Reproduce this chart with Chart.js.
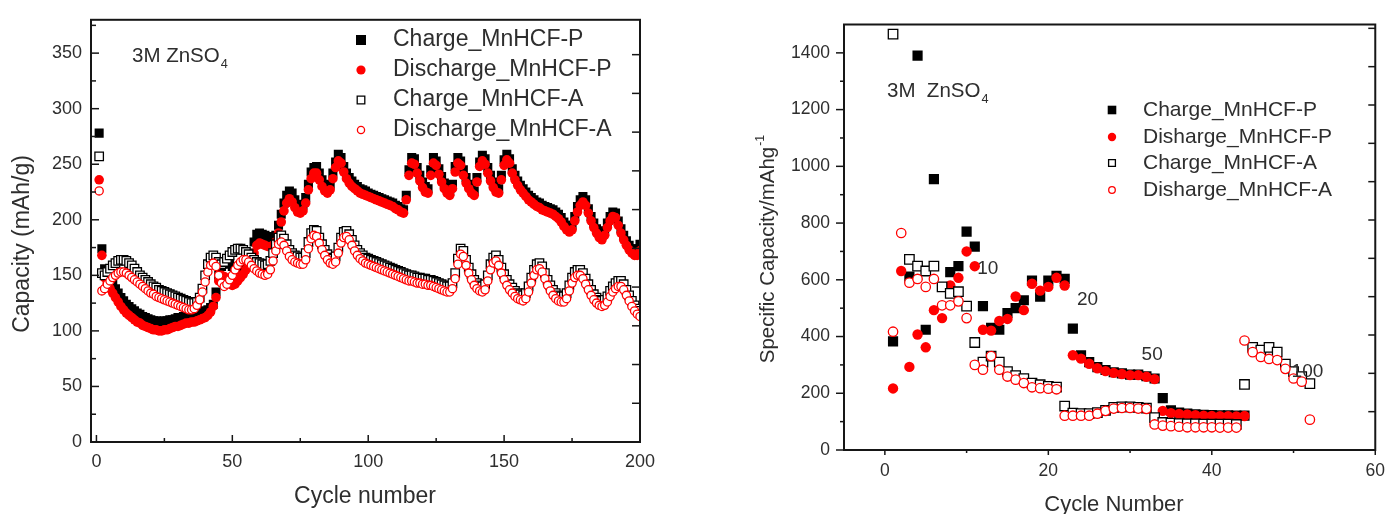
<!DOCTYPE html>
<html>
<head>
<meta charset="utf-8">
<title>MnHCF cycling and rate capability</title>
<script src="https://cdn.jsdelivr.net/npm/chart.js@4.4.1/dist/chart.umd.min.js"></script>
<style>
  html, body { margin: 0; padding: 0; background: #fff; overflow: hidden; }
  #wrap { position: relative; width: 1396px; height: 514px; }
  canvas { position: absolute; top: 0; }
</style>
</head>
<body>
<div id="wrap">
  <canvas id="cycling" width="700" height="514" style="left:0"></canvas>
  <canvas id="rate" width="696" height="514" style="left:700px"></canvas>
</div>
<script>
// ---------- Long-term cycling (capacity, mAh/g, cycles 1..200) ----------
const chargeP = [
  278,174,156,150,146,142,138,134,130,127, 124,122,120,118,116,115,113,112,111,110,
  109,109,108,108,109,109,110,110,111,112, 112,113,114,114,115,115,116,116,117,118,
  119,121,124,135,150,158,160,162,161,158, 156,155,158,160,163,166,170,180,187,188,
  187,186,185,184,184,186,195,205,215,222, 226,224,218,214,212,213,220,232,243,247,
  248,242,236,231,229,232,242,252,259,256, 248,242,238,235,232,230,228,227,226,224,
  223,222,221,220,219,218,217,216,215,213, 212,210,209,222,245,256,255,247,240,234,
  230,228,245,256,253,246,239,233,229,226, 232,248,256,253,245,238,232,228,226,238,
  252,258,255,247,240,234,230,228,240,254, 259,255,246,240,235,231,228,225,222,220,
  218,216,215,213,212,211,210,209,207,205, 202,198,195,193,195,203,212,218,221,218,
  210,203,197,192,188,186,190,197,203,207, 206,199,192,186,181,177,174,172,174,178
];
const dischargeP = [
  236,168,148,143,138,134,130,126,122,119, 116,114,112,110,108,107,105,104,103,102,
  101,101,100,100,101,101,102,103,104,104, 105,106,107,107,108,108,109,110,111,112,
  114,117,122,130,145,150,149,146,143,141, 142,145,148,151,155,158,162,170,177,179,
  178,177,176,176,177,180,188,198,208,215, 219,216,211,207,206,208,215,227,237,242,
  242,236,230,226,224,227,237,247,253,251, 243,237,233,230,228,226,224,223,222,221,
  220,219,218,217,216,215,214,213,212,210, 209,207,206,218,240,251,250,242,235,229,
  225,224,240,251,249,241,234,228,224,222, 228,243,251,249,240,233,228,224,222,234,
  248,253,250,242,235,229,225,224,236,249, 254,251,242,236,231,227,224,221,218,216,
  214,212,211,209,208,207,206,205,203,201, 198,194,191,189,191,199,207,213,216,213,
  206,199,193,188,184,182,186,193,199,203, 202,195,188,182,177,173,170,168,168,172
];
const chargeA = [
  257,152,150,153,156,159,161,163,164,164, 163,161,159,156,153,150,148,146,144,142,
  140,139,137,136,135,134,133,132,131,130, 129,128,127,126,125,125,126,130,138,150,
  160,166,168,166,162,160,162,165,168,171, 173,174,174,173,171,169,166,164,162,161,
  160,159,160,163,170,178,184,186,183,178, 173,170,168,167,166,166,170,180,188,191,
  190,184,178,173,169,166,165,167,175,184, 189,190,187,182,177,173,170,168,166,165,
  164,163,162,161,160,159,158,157,156,155, 154,153,152,151,150,150,149,148,148,147,
  147,146,146,145,144,143,142,141,140,140, 143,152,165,174,172,164,157,151,146,143,
  141,140,142,150,160,166,168,164,157,151, 146,142,139,136,134,133,132,134,140,148,
  155,160,161,158,152,146,141,137,134,132, 131,131,134,141,148,153,155,155,152,147,
  142,137,133,130,128,127,128,131,136,140, 143,145,145,142,137,132,127,123,120,118
];
const dischargeA = [
  226,136,138,142,145,148,150,152,153,153, 152,150,148,146,144,142,140,138,136,134,
  133,131,130,129,128,127,126,125,124,123, 122,121,120,119,119,120,123,128,135,144,
  153,159,161,158,150,143,140,142,146,150, 155,159,162,164,164,162,159,156,154,152,
  151,150,151,155,163,172,178,180,177,172, 167,164,162,161,160,160,164,174,183,186,
  185,179,173,168,164,161,160,162,170,179, 184,185,182,177,172,168,165,163,161,160,
  159,158,157,156,155,154,153,152,151,150, 149,148,147,146,145,145,144,143,143,142,
  142,141,141,140,139,138,137,136,135,135, 138,147,160,169,167,159,152,146,141,138,
  136,135,137,145,155,161,163,159,152,146, 141,137,134,131,129,128,127,129,135,143,
  150,155,156,153,147,141,136,132,129,127, 126,126,129,136,143,148,150,150,147,142,
  137,132,128,125,123,122,123,126,131,135, 138,140,140,137,132,127,122,118,115,113
];
const cycleTicks = [0, 50, 100, 150, 200];
const cycleMinorTicks = [25, 75, 125, 175];
const capacityTicks = [0, 50, 100, 150, 200, 250, 300, 350];
const capacityMinorTicks = [25, 75, 125, 175, 225, 275, 325, 375];

// ---------- Rate test (specific capacity, mAh/g, cycles 1..52) ----------
const rateChargeP = [
  383, null, 611, 1390, 424, 955, null, 627, 648, 770,
  717, 507, 431, 424, 483, 500, 528, 597, 541, 597,
  614, 603, 428, 334, 310, 292, 282, 274, 270, 266,
  266, 260, 252, 183, 140, 132, 128, 126, 124, 123,
  122, 122, 121, 121, null, null, null, null, null, null,
  null, null
];
const rateDischargeP = [
  217, 631, 293, 407, 362, 493, 465, 580, 607, 700,
  648, 424, 421, 455, 462, 541, 493, 586, 562, 575,
  607, 580, 334, 322, 304, 288, 278, 272, 268, 264,
  264, 258, 250, 138, 130, 127, 125, 123, 121, 120,
  119, 119, 118, 120, null, null, null, null, null, null,
  null, null
];
const rateChargeA = [
  1466, null, 672, 648, 631, 648, 575, 552, 558, 507,
  379, 310, 331, 310, 276, 262, 252, 236, 230, 224,
  222, 155, 130, 128, 128, 132, 140, 150, 152, 152,
  150, 148, 114, 97, 95, 93, 92, 92, 91, 91,
  91, 91, 90, 231, 362, 352, 362, 345, 303, 276,
  259, 234
];
const rateDischargeA = [
  417, 765, 590, 603, 575, 603, 510, 510, 524, 465,
  300, 283, 331, 283, 259, 248, 236, 221, 218, 216,
  214, 121, 121, 121, 121, 128, 138, 146, 148, 148,
  146, 145, 90, 86, 84, 82, 80, 80, 80, 80,
  79, 79, 79, 386, 345, 328, 321, 317, 286, 252,
  241, 107
];
const rateCycleTicks = [0, 20, 40, 60];
const rateCycleMinorTicks = [10, 30, 50];
const specTicks = [0, 200, 400, 600, 800, 1000, 1200, 1400];
const specMinorTicks = [100, 300, 500, 700, 900, 1100, 1300];
const rateLabels = ['10', '20', '50', '100'];

// ---------- shared look ----------
const INK = '#2e2e2e';
const FONT = "'Liberation Sans', Arial, sans-serif";
const RED = '#ff0000';

// pair each value with its cycle number (1-based), skipping gaps
function points(values) {
  const out = [];
  values.forEach((v, i) => { if (v !== null) out.push({ x: i + 1, y: v }); });
  return out;
}
const fixedTicks = list => scale => { scale.ticks = list.map(v => ({ value: v })); };
const plainLabel = v => String(v);

function drawMarker(ctx, style, x, y, half, fill, stroke, lw) {
  ctx.beginPath();
  if (style === 'rect') ctx.rect(x - half, y - half, 2 * half, 2 * half);
  else ctx.arc(x, y, half, 0, Math.PI * 2);
  ctx.fillStyle = fill;
  ctx.fill();
  if (lw) { ctx.lineWidth = lw; ctx.strokeStyle = stroke; ctx.stroke(); }
}

// plot frame plus major/minor tick marks (inward or outward)
const axisFrame = {
  id: 'axisFrame',
  afterDatasetsDraw(chart, args, o) {
    const { ctx, chartArea: a, scales } = chart;
    ctx.save();
    ctx.strokeStyle = '#161616';
    ctx.lineWidth = 1.5;
    const seg = (x1, y1, x2, y2) => { ctx.beginPath(); ctx.moveTo(x1, y1); ctx.lineTo(x2, y2); ctx.stroke(); };
    (o.bottom || []).forEach(t => t.values.forEach(v => {
      const px = scales.x.getPixelForValue(v);
      seg(px, a.bottom, px, a.bottom + (t.inward ? -t.len : t.len));
    }));
    (o.left || []).forEach(t => t.values.forEach(v => {
      const py = scales.y.getPixelForValue(v);
      seg(a.left, py, a.left + (t.inward ? t.len : -t.len), py);
    }));
    (o.right || []).forEach(t => t.values.forEach(v => {
      const py = scales.y2.getPixelForValue(v);
      seg(a.right, py, a.right - t.len, py);
    }));
    ctx.lineWidth = 2;
    ctx.strokeRect(a.left, a.top, a.right - a.left, a.bottom - a.top);
    ctx.restore();
  }
};

// axis titles, in-plot notes and legend
const decor = {
  id: 'decor',
  afterDraw(chart, args, o) {
    const { ctx, scales } = chart;
    ctx.save();
    ctx.fillStyle = INK;
    ctx.textBaseline = 'middle';

    o.titles.forEach(t => {
      ctx.save();
      ctx.translate(t.x, t.y);
      if (t.rotate) ctx.rotate(-Math.PI / 2);
      ctx.font = `${t.size}px ${FONT}`;
      const w = ctx.measureText(t.text).width;
      let total = w, sw = 0;
      if (t.sup) {
        ctx.font = `${t.size * 0.6}px ${FONT}`;
        sw = ctx.measureText(t.sup).width;
        total += sw + 1;
      }
      ctx.textAlign = 'left';
      ctx.font = `${t.size}px ${FONT}`;
      ctx.fillText(t.text, -total / 2, 0);
      if (t.sup) {
        ctx.font = `${t.size * 0.6}px ${FONT}`;
        ctx.fillText(t.sup, -total / 2 + w + 1, -t.size * 0.38);
      }
      ctx.restore();
    });

    // electrolyte note with subscript
    const n = o.note;
    ctx.textAlign = 'left';
    ctx.textBaseline = 'alphabetic';
    ctx.font = `${n.size}px ${FONT}`;
    ctx.fillText(n.text, n.x, n.y);
    const nw = ctx.measureText(n.text).width;
    ctx.font = `${n.size * 0.62}px ${FONT}`;
    ctx.fillText(n.sub, n.x + nw + 1, n.y + n.size * 0.3);

    // rate markers placed in data coordinates
    if (o.tags) {
      ctx.font = `${o.tags.size}px ${FONT}`;
      ctx.textAlign = 'center';
      ctx.textBaseline = 'middle';
      o.tags.items.forEach(tg => {
        ctx.fillText(tg.text, scales.x.getPixelForValue(tg.x), scales.y.getPixelForValue(tg.y));
      });
    }

    // legend
    const L = o.legend;
    ctx.textAlign = 'left';
    ctx.textBaseline = 'middle';
    chart.data.datasets.forEach((ds, i) => {
      const y = L.rows[i];
      drawMarker(ctx, ds.pointStyle, L.markerX, y, L.half[i], ds.backgroundColor, ds.borderColor, ds.borderWidth);
      ctx.fillStyle = INK;
      ctx.font = `${L.size}px ${FONT}`;
      ctx.fillText(ds.label, L.textX, y);
    });
    ctx.restore();
  }
};

function tickFont(size) { return { family: FONT, size: size }; }

// ---------- left panel: long-term cycling ----------
new Chart(document.getElementById('cycling'), {
  type: 'scatter',
  data: {
    datasets: [
      { label: 'Charge_MnHCF-P', data: points(chargeP), pointStyle: 'rect', pointRadius: 6.4,
        backgroundColor: '#000', borderColor: '#000', borderWidth: 0, order: 3 },
      { label: 'Discharge_MnHCF-P', data: points(dischargeP), pointStyle: 'circle', pointRadius: 4.8,
        backgroundColor: RED, borderColor: RED, borderWidth: 0, order: 2 },
      { label: 'Charge_MnHCF-A', data: points(chargeA), pointStyle: 'rect', pointRadius: 6,
        backgroundColor: '#fff', borderColor: '#000', borderWidth: 1.3, order: 1 },
      { label: 'Discharge_MnHCF-A', data: points(dischargeA), pointStyle: 'circle', pointRadius: 4.1,
        backgroundColor: '#fff', borderColor: RED, borderWidth: 1.3, order: 0 }
    ]
  },
  options: {
    responsive: false, animation: false, devicePixelRatio: 1, events: [],
    layout: { padding: { top: 15, right: 60, left: 0, bottom: 0 } },
    plugins: {
      legend: { display: false }, tooltip: { enabled: false },
      axisFrame: {
        bottom: [{ values: cycleTicks, inward: true, len: 7 }, { values: cycleMinorTicks, inward: true, len: 4 }],
        left: [{ values: capacityTicks, inward: true, len: 8 }, { values: capacityMinorTicks, inward: true, len: 5 }],
        right: [{ values: [1, 2, 3, 4, 5, 6, 7, 8, 9, 10], len: 8 }]
      },
      decor: {
        titles: [
          { text: 'Capacity (mAh/g)', x: 23, y: 244, size: 23, rotate: true },
          { text: 'Cycle number', x: 365, y: 497, size: 23 }
        ],
        note: { text: '3M ZnSO', sub: '4', x: 132, y: 62, size: 20.5 },
        legend: { markerX: 361, textX: 393, rows: [40, 70, 100, 130], size: 23, half: [5, 4.6, 3.8, 3.6] }
      }
    },
    scales: {
      x: {
        type: 'linear', min: -2, max: 200,
        afterBuildTicks: fixedTicks(cycleTicks),
        afterFit: s => { s.height = 72; },
        grid: { display: false, drawTicks: false }, border: { display: false },
        ticks: { font: tickFont(18), color: INK, padding: 9, maxRotation: 0, callback: plainLabel }
      },
      y: {
        type: 'linear', min: 0, max: 380,
        afterBuildTicks: fixedTicks(capacityTicks),
        afterFit: s => { s.width = 91; },
        grid: { display: false, drawTicks: false }, border: { display: false },
        ticks: { font: tickFont(18), color: INK, padding: 9, callback: plainLabel }
      },
      y2: { type: 'linear', position: 'right', display: false, min: 0, max: 10.9 }
    }
  },
  plugins: [axisFrame, decor]
});

// ---------- right panel: rate capability ----------
new Chart(document.getElementById('rate'), {
  type: 'scatter',
  data: {
    datasets: [
      { label: 'Charge_MnHCF-P', data: points(rateChargeP), pointStyle: 'rect', pointRadius: 7.2,
        backgroundColor: '#000', borderColor: '#000', borderWidth: 0, order: 3 },
      { label: 'Disharge_MnHCF-P', data: points(rateDischargeP), pointStyle: 'circle', pointRadius: 5.2,
        backgroundColor: RED, borderColor: RED, borderWidth: 0, order: 2 },
      { label: 'Charge_MnHCF-A', data: points(rateChargeA), pointStyle: 'rect', pointRadius: 6.7,
        backgroundColor: '#fff', borderColor: '#000', borderWidth: 1.3, order: 1 },
      { label: 'Disharge_MnHCF-A', data: points(rateDischargeA), pointStyle: 'circle', pointRadius: 4.7,
        backgroundColor: '#fff', borderColor: RED, borderWidth: 1.3, order: 0 }
    ]
  },
  options: {
    responsive: false, animation: false, devicePixelRatio: 1, events: [],
    layout: { padding: { top: 14, right: 13, left: 0, bottom: 0 } },
    plugins: {
      legend: { display: false }, tooltip: { enabled: false },
      axisFrame: {
        bottom: [{ values: rateCycleTicks, inward: false, len: 5 }, { values: rateCycleMinorTicks, inward: false, len: 3 }],
        left: [{ values: specTicks, inward: false, len: 8 }, { values: specMinorTicks, inward: false, len: 4 }],
        right: [{ values: [1, 2, 3, 4, 5, 6, 7, 8, 9, 10, 11], len: 7 }]
      },
      decor: {
        titles: [
          { text: 'Specific Capacity/mAhg', sup: '-1', x: 68, y: 249, size: 20.5, rotate: true },
          { text: 'Cycle Number', x: 414, y: 505, size: 22 }
        ],
        note: { text: '3M  ZnSO', sub: '4', x: 187, y: 97, size: 20.5 },
        tags: {
          size: 19,
          items: [
            { text: rateLabels[0], x: 12.6, y: 638 },
            { text: rateLabels[1], x: 24.8, y: 528 },
            { text: rateLabels[2], x: 32.7, y: 334 },
            { text: rateLabels[3], x: 51.7, y: 276 }
          ]
        },
        legend: { markerX: 412, textX: 443, rows: [110, 137, 163, 190], size: 21, half: [4.3, 4.2, 3.4, 3.3] }
      }
    },
    scales: {
      x: {
        type: 'linear', min: -5, max: 60,
        afterBuildTicks: fixedTicks(rateCycleTicks),
        afterFit: s => { s.height = 64; },
        grid: { display: false, drawTicks: false }, border: { display: false },
        ticks: { font: tickFont(17.5), color: INK, padding: 11, maxRotation: 0, callback: plainLabel }
      },
      y: {
        type: 'linear', min: 0, max: 1500,
        afterBuildTicks: fixedTicks(specTicks),
        afterFit: s => { s.width = 144; },
        grid: { display: false, drawTicks: false }, border: { display: false },
        ticks: { font: tickFont(17.5), color: INK, padding: 14, callback: plainLabel }
      },
      y2: { type: 'linear', position: 'right', display: false, min: 0, max: 11.1 }
    }
  },
  plugins: [axisFrame, decor]
});
</script>
</body>
</html>
